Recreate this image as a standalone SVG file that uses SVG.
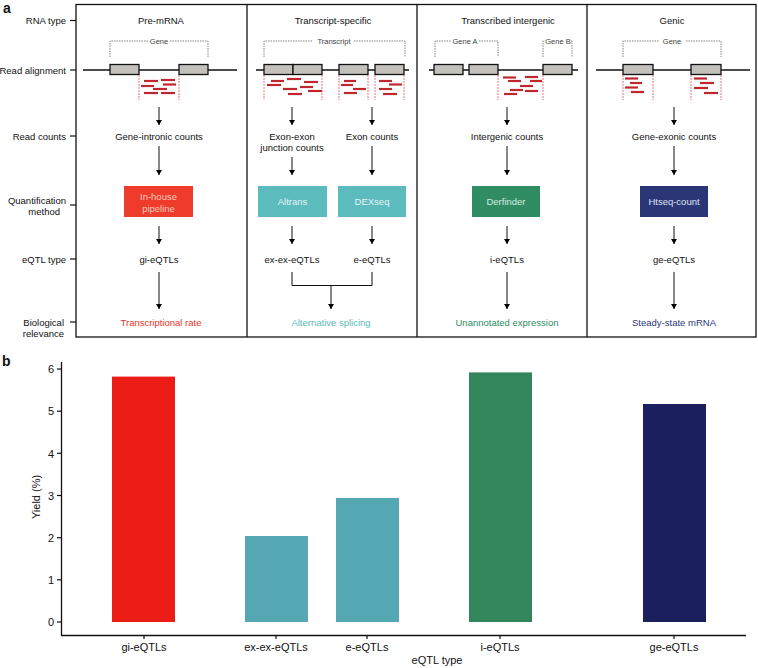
<svg xmlns="http://www.w3.org/2000/svg" width="758" height="668" viewBox="0 0 758 668">
<defs>
<marker id="ah" markerUnits="userSpaceOnUse" markerWidth="5" markerHeight="6" viewBox="0 0 10 12" refX="10" refY="6" orient="auto">
<path d="M0,0 L10,6 L0,12 z" fill="#000"/>
</marker>
<style>
text{font-family:"Liberation Sans",Arial,Helvetica,sans-serif;fill:#111;}
.lbl{font-size:9.5px;}
.row{font-size:9.5px;text-anchor:end;}
.mid{text-anchor:middle;}
.sm{font-size:7.5px;fill:#444;text-anchor:middle;}
.frame{fill:none;stroke:#111;stroke-width:1.3;}
.tick{stroke:#111;stroke-width:1.2;}
.bb{stroke:#111;stroke-width:1.3;}
.exon{fill:#c4c1bc;stroke:#111;stroke-width:1.3;}
.brk{fill:none;stroke:#777;stroke-width:0.9;stroke-dasharray:1.5,1;}
.rdash{stroke:#e8505a;stroke-width:0.8;stroke-dasharray:2,1;}
.read{stroke:#c0262e;stroke-width:2.2;}
.arr{stroke:#111;stroke-width:1;fill:none;marker-end:url(#ah);}
.ln{stroke:#111;stroke-width:1;fill:none;}
.bx{font-size:9.5px;text-anchor:middle;}
.ax{stroke:#111;stroke-width:1.3;}
.tl{font-size:11px;text-anchor:end;}
.cl{font-size:11px;text-anchor:middle;}
</style>
</defs>

<text x="3" y="13" style="font-size:14px;font-weight:bold">a</text>
<text x="2" y="366" style="font-size:14px;font-weight:bold">b</text>

<g id="row-labels">
<text class="row" x="66" y="23.5">RNA type</text>
<text class="row" x="66" y="73.5">Read alignment</text>
<text class="row" x="66" y="139.5">Read counts</text>
<text class="row" x="66" y="203.5">Quantification</text>
<text class="row" x="60" y="214.5">method</text>
<text class="row" x="66" y="262.5">eQTL type</text>
<text class="row" x="64" y="325.5">Biological</text>
<text class="row" x="64" y="336.5">relevance</text>
<line class="tick" x1="70" y1="20.5" x2="76" y2="20.5"/>
<line class="tick" x1="70" y1="70" x2="76" y2="70"/>
<line class="tick" x1="70" y1="136" x2="76" y2="136"/>
<line class="tick" x1="70" y1="205" x2="76" y2="205"/>
<line class="tick" x1="70" y1="259" x2="76" y2="259"/>
<line class="tick" x1="70" y1="322" x2="76" y2="322"/>
</g>

<g id="frames">
<rect class="frame" x="76" y="4.5" width="680" height="332.5"/>
<line class="frame" x1="247" y1="4.5" x2="247" y2="337"/>
<line class="frame" x1="417" y1="4.5" x2="417" y2="337"/>
<line class="frame" x1="587" y1="4.5" x2="587" y2="337"/>
</g>

<g id="panel-premrna">
<text class="lbl mid" x="161" y="23.5">Pre-mRNA</text>
<path class="brk" d="M110,57 V41 H148 M170,41 H208 V57"/>
<text class="sm" x="159" y="43.5">Gene</text>
<line class="bb" x1="83" y1="70" x2="237" y2="70"/>
<rect class="exon" x="110" y="64.5" width="29" height="10"/>
<rect class="exon" x="179" y="64.5" width="29" height="10"/>
<line class="rdash" x1="139" y1="75" x2="139" y2="100"/>
<line class="rdash" x1="179" y1="75" x2="179" y2="100"/>
<g>
<line class="read" x1="144" y1="81" x2="158" y2="81"/>
<line class="read" x1="161" y1="80" x2="175" y2="80"/>
<line class="read" x1="141" y1="86" x2="154" y2="86"/>
<line class="read" x1="163" y1="84.5" x2="176" y2="84.5"/>
<line class="read" x1="153" y1="89" x2="167" y2="89"/>
<line class="read" x1="144" y1="93" x2="158" y2="93"/>
<line class="read" x1="161" y1="93" x2="175" y2="93"/>
</g>
</g>

<g id="panel-transcript">
<text class="lbl mid" x="333" y="23.5">Transcript-specific</text>
<path class="brk" d="M264,57 V41 H313 M354,41 H405 V57"/>
<text class="sm" x="334" y="43.5">Transcript</text>
<line class="bb" x1="256" y1="70" x2="409" y2="70"/>
<rect class="exon" x="264" y="64.5" width="29" height="10"/>
<rect class="exon" x="293" y="64.5" width="29" height="10"/>
<rect class="exon" x="339" y="64.5" width="29" height="10"/>
<rect class="exon" x="375" y="64.5" width="29" height="10"/>
<line class="rdash" x1="264" y1="75" x2="264" y2="100"/>
<line class="rdash" x1="322" y1="75" x2="322" y2="100"/>
<line class="rdash" x1="339" y1="75" x2="339" y2="100"/>
<line class="rdash" x1="368" y1="75" x2="368" y2="100"/>
<line class="rdash" x1="375" y1="75" x2="375" y2="100"/>
<line class="rdash" x1="404" y1="75" x2="404" y2="100"/>
<g>
<line class="read" x1="271" y1="81" x2="284" y2="81"/>
<line class="read" x1="287" y1="79" x2="301" y2="79"/>
<line class="read" x1="304" y1="82" x2="318" y2="82"/>
<line class="read" x1="267" y1="85" x2="281" y2="85"/>
<line class="read" x1="300" y1="87" x2="313" y2="87"/>
<line class="read" x1="283" y1="89" x2="297" y2="89"/>
<line class="read" x1="308" y1="91" x2="322" y2="91"/>
<line class="read" x1="288" y1="94" x2="302" y2="94"/>
<line class="read" x1="344" y1="81" x2="356" y2="81"/>
<line class="read" x1="341" y1="85" x2="353" y2="85"/>
<line class="read" x1="353" y1="89" x2="366" y2="89"/>
<line class="read" x1="344" y1="93" x2="357" y2="93"/>
<line class="read" x1="379" y1="81" x2="392" y2="81"/>
<line class="read" x1="389" y1="84.5" x2="402" y2="84.5"/>
<line class="read" x1="379" y1="89" x2="392" y2="89"/>
<line class="read" x1="383" y1="94" x2="397" y2="94"/>
</g>
</g>

<g id="panel-intergenic">
<text class="lbl mid" x="508" y="23.5">Transcribed intergenic</text>
<path class="brk" d="M435,57 V41 H451 M479,41 H498 V57"/>
<text class="sm" x="465" y="43.5">Gene A</text>
<path class="brk" d="M543,57 V41 H545 M571,41 H572 V57"/>
<text class="sm" x="558" y="43.5">Gene B</text>
<line class="bb" x1="429" y1="70" x2="578" y2="70"/>
<rect class="exon" x="434" y="64.5" width="29" height="10"/>
<rect class="exon" x="469" y="64.5" width="29" height="10"/>
<rect class="exon" x="543" y="64.5" width="29" height="10"/>
<line class="rdash" x1="498" y1="75" x2="498" y2="100"/>
<line class="rdash" x1="543" y1="75" x2="543" y2="100"/>
<g>
<line class="read" x1="503" y1="77.5" x2="516" y2="77.5"/>
<line class="read" x1="525" y1="77" x2="538" y2="77"/>
<line class="read" x1="508" y1="81" x2="521" y2="81"/>
<line class="read" x1="530" y1="81" x2="542" y2="81"/>
<line class="read" x1="520" y1="86" x2="533" y2="86"/>
<line class="read" x1="510" y1="90" x2="523" y2="90"/>
<line class="read" x1="525" y1="91" x2="538" y2="91"/>
<line class="read" x1="504" y1="94" x2="517" y2="94"/>
</g>
</g>

<g id="panel-genic">
<text class="lbl mid" x="672" y="23.5">Genic</text>
<path class="brk" d="M623,57 V41 H659 M686,41 H721 V57"/>
<text class="sm" x="672" y="43.5">Gene</text>
<line class="bb" x1="596" y1="70" x2="750" y2="70"/>
<rect class="exon" x="623" y="64.5" width="30" height="10"/>
<rect class="exon" x="691" y="64.5" width="30" height="10"/>
<line class="rdash" x1="623" y1="75" x2="623" y2="100"/>
<line class="rdash" x1="653" y1="75" x2="653" y2="100"/>
<line class="rdash" x1="691" y1="75" x2="691" y2="100"/>
<line class="rdash" x1="721" y1="75" x2="721" y2="100"/>
<g>
<line class="read" x1="625" y1="78.5" x2="638" y2="78.5"/>
<line class="read" x1="630" y1="83" x2="642" y2="83"/>
<line class="read" x1="625" y1="87.5" x2="638" y2="87.5"/>
<line class="read" x1="631" y1="92" x2="644" y2="92"/>
<line class="read" x1="694" y1="78.5" x2="707" y2="78.5"/>
<line class="read" x1="700" y1="83" x2="714" y2="83"/>
<line class="read" x1="694" y1="88" x2="708" y2="88"/>
<line class="read" x1="704" y1="93" x2="718" y2="93"/>
</g>
</g>

<g id="count-labels">
<text class="lbl mid" x="159" y="139.5">Gene-intronic counts</text>
<text class="lbl mid" x="292" y="139.5">Exon-exon</text>
<text class="lbl mid" x="292" y="150.5">junction counts</text>
<text class="lbl mid" x="372" y="139.5">Exon counts</text>
<text class="lbl mid" x="507" y="139.5">Intergenic counts</text>
<text class="lbl mid" x="674" y="139.5">Gene-exonic counts</text>
</g>

<g id="node-inhouse">
<rect x="124" y="186" width="69" height="31" fill="#ee3b2b"/>
<text class="bx" x="158.5" y="199.5" style="fill:#f9c9bd">In-house</text>
<text class="bx" x="158.5" y="211.5" style="fill:#f9c9bd">pipeline</text>
</g>
<g id="node-altrans">
<rect x="258" y="186" width="69" height="31" fill="#5bbbbd"/>
<text class="bx" x="292.5" y="205" style="fill:#e4f5f5">Altrans</text>
</g>
<g id="node-dexseq">
<rect x="338" y="186" width="68" height="31" fill="#5bbbbd"/>
<text class="bx" x="372" y="205" style="fill:#e4f5f5">DEXseq</text>
</g>
<g id="node-derfinder">
<rect x="472" y="186" width="68" height="31" fill="#2f8c63"/>
<text class="bx" x="506" y="205" style="fill:#d5ece0">Derfinder</text>
</g>
<g id="node-htseq">
<rect x="640" y="186" width="68" height="31" fill="#2b3677"/>
<text class="bx" x="674" y="205" style="fill:#dfe2f0">Htseq-count</text>
</g>

<g id="eqtl-labels">
<text class="lbl mid" x="159" y="262.5">gi-eQTLs</text>
<text class="lbl mid" x="292" y="262.5">ex-ex-eQTLs</text>
<text class="lbl mid" x="372" y="262.5">e-eQTLs</text>
<text class="lbl mid" x="507" y="262.5">i-eQTLs</text>
<text class="lbl mid" x="674" y="262.5">ge-eQTLs</text>
</g>

<g id="relevance-labels">
<text class="lbl mid" x="161" y="325.5" style="fill:#e8352b">Transcriptional rate</text>
<text class="lbl mid" x="331" y="325.5" style="fill:#5bbbbd">Alternative splicing</text>
<text class="lbl mid" x="507" y="325.5" style="fill:#2f8c63">Unannotated expression</text>
<text class="lbl mid" x="674" y="325.5" style="fill:#2b3677">Steady-state mRNA</text>
</g>

<g id="connectors">
<line class="arr" x1="159" y1="107" x2="159" y2="125"/>
<line class="arr" x1="159" y1="146" x2="159" y2="175"/>
<line class="arr" x1="159" y1="226" x2="159" y2="244"/>
<line class="arr" x1="159" y1="272" x2="159" y2="309"/>
<line class="arr" x1="292" y1="107" x2="292" y2="125"/>
<line class="arr" x1="292" y1="157" x2="292" y2="175"/>
<line class="arr" x1="292" y1="226" x2="292" y2="244"/>
<line class="arr" x1="372" y1="107" x2="372" y2="125"/>
<line class="arr" x1="372" y1="146" x2="372" y2="175"/>
<line class="arr" x1="372" y1="226" x2="372" y2="244"/>
<path class="ln" d="M292,272 V285.5 H372 V272"/>
<line class="arr" x1="331" y1="285.5" x2="331" y2="309"/>
<line class="arr" x1="507" y1="107" x2="507" y2="125"/>
<line class="arr" x1="507" y1="146" x2="507" y2="175"/>
<line class="arr" x1="507" y1="226" x2="507" y2="244"/>
<line class="arr" x1="507" y1="272" x2="507" y2="309"/>
<line class="arr" x1="674" y1="107" x2="674" y2="125"/>
<line class="arr" x1="674" y1="146" x2="674" y2="175"/>
<line class="arr" x1="674" y1="226" x2="674" y2="244"/>
<line class="arr" x1="674" y1="272" x2="674" y2="309"/>
</g>

<g id="chart">
<rect x="112" y="376.6" width="63" height="245.4" fill="#ec1c16"/>
<rect x="245" y="536" width="63" height="86" fill="#55a7b3"/>
<rect x="336" y="498" width="63" height="124" fill="#55a7b3"/>
<rect x="469" y="372.4" width="63" height="249.6" fill="#33855c"/>
<rect x="643" y="404" width="63" height="218" fill="#1b1f5e"/>
<line class="ax" x1="61.5" y1="362" x2="61.5" y2="635.5"/>
<line class="ax" x1="61" y1="635.5" x2="746" y2="635.5"/>
<g class="tick">
<line x1="57" y1="622" x2="61" y2="622"/>
<line x1="57" y1="579.8" x2="61" y2="579.8"/>
<line x1="57" y1="537.7" x2="61" y2="537.7"/>
<line x1="57" y1="495.5" x2="61" y2="495.5"/>
<line x1="57" y1="453.3" x2="61" y2="453.3"/>
<line x1="57" y1="411.2" x2="61" y2="411.2"/>
<line x1="57" y1="369" x2="61" y2="369"/>
<line x1="144" y1="635" x2="144" y2="639"/>
<line x1="276" y1="635" x2="276" y2="639"/>
<line x1="367" y1="635" x2="367" y2="639"/>
<line x1="500" y1="635" x2="500" y2="639"/>
<line x1="674" y1="635" x2="674" y2="639"/>
</g>
<text class="tl" x="54" y="626">0</text>
<text class="tl" x="54" y="584">1</text>
<text class="tl" x="54" y="542">2</text>
<text class="tl" x="54" y="499.5">3</text>
<text class="tl" x="54" y="457.5">4</text>
<text class="tl" x="54" y="415">5</text>
<text class="tl" x="54" y="373">6</text>
<text class="cl" x="144" y="651">gi-eQTLs</text>
<text class="cl" x="276" y="651">ex-ex-eQTLs</text>
<text class="cl" x="367" y="651">e-eQTLs</text>
<text class="cl" x="500" y="651">i-eQTLs</text>
<text class="cl" x="674" y="651">ge-eQTLs</text>
<text class="cl" x="437" y="664">eQTL type</text>
<text class="cl" transform="translate(39.5,497) rotate(-90)">Yield (%)</text>
</g>
</svg>
